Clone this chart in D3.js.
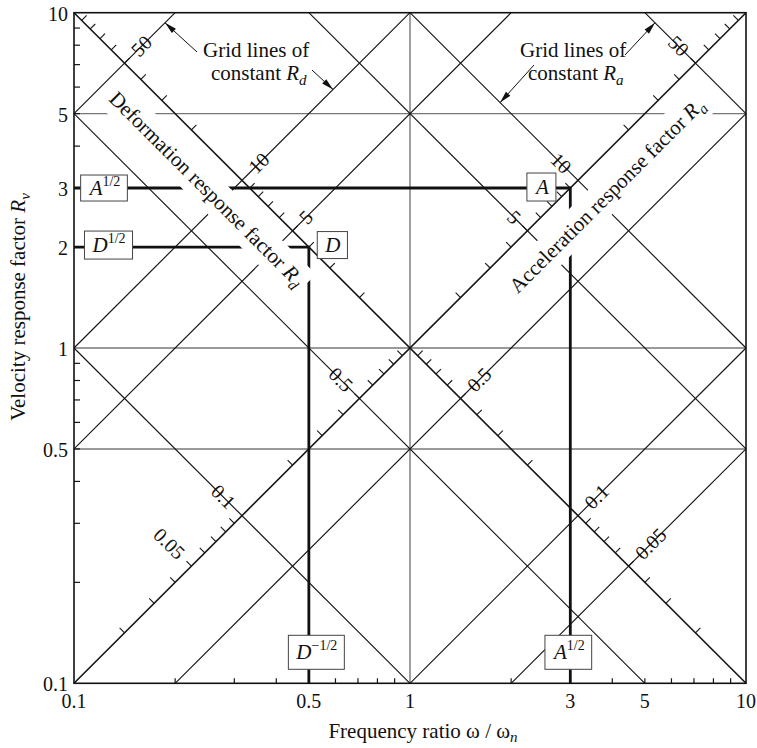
<!DOCTYPE html>
<html>
<head>
<meta charset="utf-8">
<script src="https://cdn.jsdelivr.net/npm/d3@7"></script>
<style>
  body { margin: 0; background: #fff; }
  text { font-family: "Liberation Serif", "Times New Roman", serif; fill: #111; }
</style>
</head>
<body>
<svg id="chart" width="757" height="748"></svg>
<script>
// Tripartite response plot: velocity factor Rv against frequency ratio,
// with diagonal grids of constant deformation (Rd) and acceleration (Ra) factors.
const xTickValues = [0.1, 0.5, 1, 3, 5, 10];
const yTickValues = [0.1, 0.5, 1, 2, 3, 5, 10];
const minorMultiples = [2, 3, 4, 5, 6, 7, 8, 9];
const axisDecades = [0.1, 1];
const diagDecades = [0.01, 0.1, 1, 10];
const gridRv = [0.5, 1, 5];
const gridOmega = [1];
const rdLines = [50, 10, 5, 1, 0.5, 0.1, 0.05];
const raLines = [50, 10, 5, 1, 0.5, 0.1];
const rdLabels = [50, 10, 5, 0.5, 0.1, 0.05];
const raLabels = [50, 10, 5, 0.5, 0.1, 0.05];
// worked example: Rv = 3 at ω/ωn = 3 (A = 9), Rv = 2 at ω/ωn = 0.5 (D = 4)
const exampleA = { omega: 3, rv: 3 };
const exampleD = { omega: 0.5, rv: 2 };

const svg = d3.select("#chart");
const x = d3.scaleLog().domain([0.1, 10]).range([74, 746]);
const y = d3.scaleLog().domain([0.1, 10]).range([683.3, 12.7]);
const [x0, x1] = x.range();
const [y0, y1] = y.range();
const S = Math.SQRT1_2;

const fmt = v => String(+v.toPrecision(3));

// ---- grid lines ----
const grid = svg.append("g").attr("stroke", "#777").attr("stroke-width", 1.4);
grid.selectAll("line.h").data(gridRv).join("line")
  .attr("x1", x0).attr("x2", x1).attr("y1", d => y(d)).attr("y2", d => y(d));
grid.selectAll("line.v").data(gridOmega).join("line")
  .attr("y1", y0).attr("y2", y1).attr("x1", d => x(d)).attr("x2", d => x(d));

// ---- diagonal lines ----
// constant Rd: Rv = Rd * w ; constant Ra: Rv = Ra / w
function rdSegment(r) {
  const wa = Math.max(0.1, 0.1 / r), wb = Math.min(10, 10 / r);
  return [x(wa), y(r * wa), x(wb), y(r * wb)];
}
function raSegment(a) {
  const wa = Math.max(0.1, a / 10), wb = Math.min(10, a / 0.1);
  return [x(wa), y(a / wa), x(wb), y(a / wb)];
}
const diag = svg.append("g").attr("stroke", "#151515").attr("fill", "none");
diag.selectAll("line.rd").data(rdLines).join("line")
  .attr("stroke-width", d => d === 1 ? 1.6 : 1.15)
  .each(function (d) {
    const [a, b, c, e] = rdSegment(d);
    d3.select(this).attr("x1", a).attr("y1", b).attr("x2", c).attr("y2", e);
  });
diag.selectAll("line.ra").data(raLines).join("line")
  .attr("stroke-width", d => d === 1 ? 1.6 : 1.15)
  .each(function (d) {
    const [a, b, c, e] = raSegment(d);
    d3.select(this).attr("x1", a).attr("y1", b).attr("x2", c).attr("y2", e);
  });

// ---- ticks along the two diagonal scales ----
const diagTicks = [];
diagDecades.forEach(dec => minorMultiples.forEach(m => {
  const v = +(m * dec).toPrecision(3);
  if (v > 0.01 && v < 100) diagTicks.push(v);
}));
const tickLen = 7;
// Rd scale runs along the Ra = 1 line: point (1/sqrt(Rd), sqrt(Rd))
const rdPoint = r => [x(1 / Math.sqrt(r)), y(Math.sqrt(r))];
// Ra scale runs along the Rd = 1 line: point (sqrt(Ra), sqrt(Ra))
const raPoint = a => [x(Math.sqrt(a)), y(Math.sqrt(a))];
const tk = svg.append("g").attr("stroke", "#151515").attr("stroke-width", 1.1);
tk.selectAll("line.rdt").data(diagTicks).join("line")
  .each(function (d) {
    const [px, py] = rdPoint(d);
    d3.select(this).attr("x1", px).attr("y1", py)
      .attr("x2", px + tickLen * S).attr("y2", py - tickLen * S);
  });
tk.selectAll("line.rat").data(diagTicks).join("line")
  .each(function (d) {
    const [px, py] = raPoint(d);
    d3.select(this).attr("x1", px).attr("y1", py)
      .attr("x2", px - tickLen * S).attr("y2", py - tickLen * S);
  });

// ---- frame ticks ----
const axisMinor = [];
axisDecades.forEach(dec => minorMultiples.forEach(m => axisMinor.push(+(m * dec).toPrecision(3))));
const ft = svg.append("g").attr("stroke", "#151515").attr("stroke-width", 1.2);
ft.selectAll("line.xt").data(axisMinor).join("line")
  .attr("x1", d => x(d)).attr("x2", d => x(d)).attr("y1", y0).attr("y2", y0 - 5);
ft.selectAll("line.yt").data(axisMinor).join("line")
  .attr("y1", d => y(d)).attr("y2", d => y(d)).attr("x1", x0).attr("x2", x0 + 6);

// ---- example path lines (heavy) ----
const heavy = svg.append("g").attr("stroke", "#111").attr("stroke-width", 2.8).attr("fill", "none");
[exampleA, exampleD].forEach(p => {
  heavy.append("path").attr("d",
    `M${x0},${y(p.rv)}H${x(p.omega)}V${y0}`);
});

// ---- axis titles along the diagonal scales, on white bands ----
function bandText(cx, cy, angle, build) {
  const g = svg.append("g").attr("transform", `translate(${cx},${cy}) rotate(${angle})`);
  const bg = g.append("rect").attr("fill", "#fff");
  const t = g.append("text").attr("text-anchor", "middle").attr("font-size", 21).attr("dy", "0.33em");
  build(t);
  const b = t.node().getBBox();
  bg.attr("x", b.x - 4).attr("width", b.width + 8)
    .attr("y", -17).attr("height", 34);
  return g;
}
{
  const [px, py] = rdPoint(12);
  bandText(px - 31 * S, py + 31 * S, 45, t => {
    t.append("tspan").text("Deformation response factor ");
    t.append("tspan").attr("font-style", "italic").text("R");
    t.append("tspan").attr("font-style", "italic").attr("font-size", 15).attr("dy", 5).text("d");
  });
}
{
  const [px, py] = raPoint(11);
  bandText(px + 31 * S, py + 31 * S, -45, t => {
    t.append("tspan").text("Acceleration response factor ");
    t.append("tspan").attr("font-style", "italic").text("R");
    t.append("tspan").attr("font-style", "italic").attr("font-size", 15).attr("dy", 5).text("a");
  });
}

// ---- numeric labels on the diagonal scales ----
const off = 14;
svg.append("g").selectAll("text").data(rdLabels).join("text")
  .attr("font-size", 20).attr("text-anchor", "start").attr("dy", "0.33em")
  .attr("transform", d => {
    const [px, py] = rdPoint(d);
    return `translate(${px + off * S},${py - off * S}) rotate(-45)`;
  })
  .text(fmt);
svg.append("g").selectAll("text").data(raLabels).join("text")
  .attr("font-size", 20).attr("text-anchor", "end").attr("dy", "0.33em")
  .attr("transform", d => {
    const [px, py] = raPoint(d);
    return `translate(${px - off * S},${py - off * S}) rotate(45)`;
  })
  .text(fmt);

// ---- frame ----
svg.append("rect").attr("x", x0).attr("y", y1).attr("width", x1 - x0).attr("height", y0 - y1)
  .attr("fill", "none").attr("stroke", "#111").attr("stroke-width", 1.6);

// ---- axis tick labels ----
svg.append("g").selectAll("text").data(xTickValues).join("text")
  .attr("font-size", 20).attr("text-anchor", "middle")
  .attr("x", d => x(d)).attr("y", y0 + 25).text(fmt);
svg.append("g").selectAll("text").data(yTickValues).join("text")
  .attr("font-size", 20).attr("text-anchor", "end")
  .attr("x", x0 - 6).attr("y", d => y(d) + 8).text(fmt);

// ---- axis titles ----
{
  const t = svg.append("text").attr("font-size", 21).attr("text-anchor", "middle")
    .attr("x", 423).attr("y", 738);
  t.append("tspan").text("Frequency ratio ω / ω");
  t.append("tspan").attr("font-style", "italic").attr("font-size", 15).attr("dy", 4).text("n");
}
{
  const t = svg.append("text").attr("font-size", 21).attr("text-anchor", "middle")
    .attr("transform", "translate(25,307) rotate(-90)");
  t.append("tspan").text("Velocity response factor ");
  t.append("tspan").attr("font-style", "italic").text("R");
  t.append("tspan").attr("font-style", "italic").attr("font-size", 15).attr("dy", 5).text("v");
}

// ---- boxed labels on the example lines ----
function boxLabel(cx, cy, h, letter, sup) {
  const g = svg.append("g");
  const bg = g.append("rect").attr("fill", "#fff").attr("stroke", "#444").attr("stroke-width", 1);
  const t = g.append("text").attr("font-size", 21).attr("text-anchor", "middle")
    .attr("x", cx).attr("y", cy + 7);
  t.append("tspan").attr("font-style", "italic").text(letter);
  if (sup) t.append("tspan").attr("font-size", 14).attr("dy", -9).text(sup);
  const b = t.node().getBBox();
  bg.attr("x", b.x - 7).attr("width", b.width + 14).attr("y", cy - h / 2).attr("height", h);
}
boxLabel(105, y(exampleA.rv), 26, "A", "1/2");
boxLabel(109, y(exampleD.rv) - 2, 28, "D", "1/2");
boxLabel(x(exampleA.omega) - 28, y(exampleA.rv) - 1, 28, "A", null);
boxLabel(x(exampleD.omega) + 24, y(exampleD.rv) - 2, 27, "D", null);
boxLabel(x(exampleD.omega) + 8, y0 - 31, 34, "D", "−1/2");
boxLabel(x(exampleA.omega) - 1, y0 - 31, 34, "A", "1/2");

// ---- annotation arrows ----
const defs = svg.append("defs");
defs.append("marker").attr("id", "head").attr("viewBox", "0 0 12 10")
  .attr("refX", 12).attr("refY", 5).attr("markerWidth", 13).attr("markerHeight", 10)
  .attr("markerUnits", "userSpaceOnUse").attr("orient", "auto")
  .append("path").attr("d", "M0,2L12,5L0,8Z").attr("fill", "#111");

function note(lx, ly, sub) {
  svg.append("text").attr("font-size", 21).attr("x", lx).attr("y", ly).text("Grid lines of");
  const t2 = svg.append("text").attr("font-size", 21).attr("x", lx + 8).attr("y", ly + 23);
  t2.append("tspan").text("constant ");
  t2.append("tspan").attr("font-style", "italic").text("R");
  t2.append("tspan").attr("font-style", "italic").attr("font-size", 15).attr("dy", 5).text(sub);
}
function arrow(fx, fy, w, rv) {
  svg.append("line").attr("x1", fx).attr("y1", fy).attr("x2", x(w)).attr("y2", y(rv))
    .attr("stroke", "#111").attr("stroke-width", 1).attr("marker-end", "url(#head)");
}
note(203, 57, "d");
arrow(197, 52, 0.1866, 50 * 0.1866);
arrow(312, 70, 0.590, 10 * 0.590);
note(520, 57, "a");
arrow(625, 55, 5.36, 50 / 5.36);
arrow(534, 65, 1.854, 10 / 1.854);
</script>
</body>
</html>
